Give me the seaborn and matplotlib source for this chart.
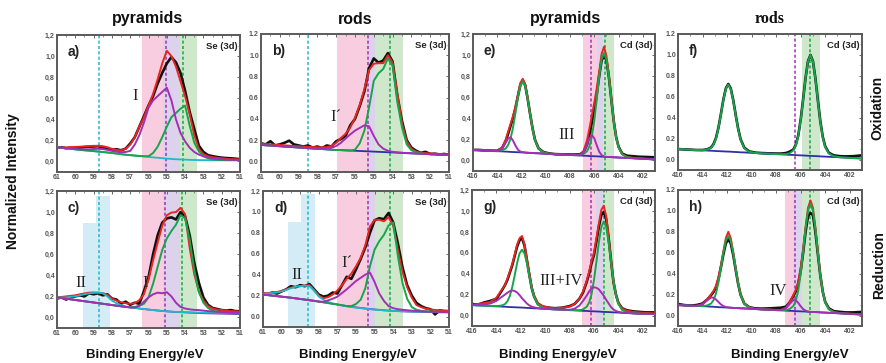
import matplotlib
matplotlib.use("Agg")
import matplotlib.pyplot as plt
import seaborn as sns
from matplotlib.ticker import FuncFormatter, MultipleLocator

sns.set_theme(style="white")
plt.rcParams['font.family'] = ['Liberation Sans', 'DejaVu Sans']

# ---------------- data ----------------
se_x = [61, 60.75, 60.5, 60.25, 60, 59.75, 59.5, 59.25, 59, 58.75,
        58.5, 58.25, 58, 57.75, 57.5, 57.25, 57, 56.75, 56.5, 56.25,
        56, 55.75, 55.5, 55.25, 55, 54.75, 54.5, 54.25, 54, 53.75,
        53.5, 53.25, 53, 52.75, 52.5, 52.25, 52, 51.75, 51.5, 51.25,
        51]

a_bg = [.135, .130, .125, .120, .115, .110, .106, .102, .098, .094,
        .090, .085, .080, .075, .069, .064, .060, .056, .052, .047,
        .043, .039, .035, .031, .027, .024, .021, .019, .017, .015,
        .014, .013, .013, .012, .012, .012, .012, .012, .012, .012,
        .012]
a_purple = [.135, .130, .126, .122, .118, .115, .114, .115, .118, .120,
            .118, .110, .100, .092, .088, .090, .100, .160, .250, .370,
            .510, .580, .620, .660, .700, .580, .400, .270, .190, .130,
            .090, .065, .050, .040, .030, .025, .020, .018, .016, .015,
            .015]
a_green = [.135, .130, .125, .120, .115, .110, .106, .102, .098, .094,
           .090, .085, .080, .075, .069, .064, .060, .056, .052, .050,
           .050, .080, .140, .230, .330, .420, .460, .500, .530, .340,
           .180, .095, .050, .030, .020, .015, .013, .012, .012, .012,
           .012]
a_red = [.130, .132, .134, .136, .138, .140, .143, .146, .148, .148,
         .145, .135, .120, .110, .105, .120, .160, .230, .330, .420,
         .530, .640, .780, .930, 1.050, 1.000, .900, .760, .620, .450,
         .250, .120, .070, .050, .040, .035, .030, .025, .022, .020,
         .020]
a_black = [.130, .135, .125, .130, .128, .132, .136, .140, .142, .145,
           .132, .120, .112, .116, .106, .122, .170, .230, .330, .430,
           .530, .620, .740, .840, .930, .990, .940, .840, .670, .470,
           .310, .150, .090, .060, .050, .042, .036, .032, .030, .026,
           .022]

b_bg = [.155, .152, .149, .146, .143, .140, .137, .134, .131, .128,
        .125, .122, .119, .116, .113, .110, .108, .106, .104, .102,
        .100, .098, .096, .094, .092, .090, .088, .086, .084, .082,
        .080, .078, .076, .074, .072, .070, .068, .066, .064, .062,
        .060]
b_purple = [.155, .152, .149, .146, .143, .140, .137, .134, .131, .128,
            .125, .122, .119, .118, .120, .128, .145, .175, .215, .255,
            .290, .315, .340, .330, .240, .160, .120, .100, .090, .085,
            .082, .078, .076, .074, .072, .070, .068, .066, .064, .062,
            .060]
b_green = [.155, .152, .149, .146, .143, .140, .137, .134, .131, .128,
           .125, .122, .119, .116, .113, .110, .108, .106, .104, .102,
           .110, .170, .290, .510, .760, .830, .870, .970, .900, .560,
           .320, .160, .105, .085, .075, .070, .068, .066, .064, .062,
           .060]
b_red = [.165, .162, .160, .157, .154, .151, .148, .145, .142, .140,
         .137, .135, .133, .132, .135, .145, .175, .220, .260, .320,
         .410, .530, .680, .860, .920, .925, .925, 1.000, .930, .640,
         .360, .190, .120, .092, .082, .078, .075, .072, .070, .068,
         .066]
b_black = [.170, .160, .190, .150, .160, .175, .195, .160, .150, .140,
           .150, .130, .140, .125, .150, .140, .190, .210, .240, .340,
           .400, .520, .660, .880, .970, .930, .950, 1.020, .940, .620,
           .380, .200, .130, .100, .080, .090, .070, .072, .065, .070,
           .060]

c_bg = [.190, .184, .178, .172, .166, .160, .154, .148, .142, .136,
        .130, .124, .118, .112, .106, .100, .095, .090, .085, .080,
        .075, .070, .066, .062, .058, .055, .052, .050, .048, .046,
        .044, .042, .040, .039, .038, .037, .036, .035, .034, .033,
        .032]
c_cyan = [.190, .190, .190, .195, .200, .210, .220, .228, .233, .236,
          .230, .200, .160, .135, .118, .105, .097, .090, .085, .080,
          .075, .070, .066, .062, .058, .055, .053, .051, .050, .049,
          .048, .047, .046, .045, .045, .044, .044, .044, .044, .044,
          .044]
c_purple = [.190, .184, .178, .172, .166, .160, .154, .148, .142, .136,
            .130, .124, .118, .112, .106, .100, .095, .095, .110, .150,
            .190, .220, .235, .230, .240, .200, .140, .100, .085, .077,
            .072, .070, .065, .060, .057, .055, .052, .050, .048, .046,
            .045]
c_green = [.190, .184, .178, .172, .166, .160, .154, .148, .142, .136,
           .130, .124, .118, .112, .106, .100, .097, .100, .110, .130,
           .190, .320, .480, .640, .750, .820, .880, .970, .940, .740,
           .450, .240, .140, .090, .065, .055, .050, .046, .043, .040,
           .038]
c_red = [.190, .195, .200, .205, .210, .220, .228, .235, .237, .235,
         .232, .215, .180, .160, .145, .135, .130, .135, .165, .220,
         .360, .540, .710, .870, .970, .995, 1.000, 1.040, .980, .660,
         .410, .250, .160, .110, .085, .075, .070, .065, .060, .058,
         .056]
c_black = [.180, .190, .170, .190, .200, .210, .200, .230, .220, .230,
           .210, .220, .180, .170, .130, .150, .120, .140, .130, .250,
           .380, .600, .780, .900, .940, .950, .930, 1.000, .960, .780,
           .520, .330, .190, .120, .090, .080, .070, .065, .070, .060,
           .060]

d_bg = [.210, .205, .200, .195, .190, .185, .180, .174, .168, .162,
        .156, .150, .143, .136, .129, .122, .115, .108, .100, .094,
        .088, .082, .077, .072, .068, .064, .060, .057, .054, .052,
        .050, .048, .046, .045, .044, .043, .042, .041, .040, .040,
        .040]
d_cyan = [.215, .220, .225, .230, .240, .255, .270, .285, .290, .295,
          .290, .245, .190, .160, .140, .125, .115, .105, .097, .090,
          .085, .080, .075, .070, .066, .062, .059, .056, .054, .052,
          .050, .049, .048, .047, .046, .045, .045, .045, .045, .045,
          .045]
d_purple = [.210, .205, .200, .195, .190, .185, .180, .174, .168, .162,
            .156, .150, .143, .140, .155, .170, .190, .225, .260, .300,
            .340, .370, .400, .420, .330, .220, .150, .100, .080, .070,
            .065, .060, .056, .053, .050, .048, .046, .045, .044, .043,
            .042]
d_green = [.210, .205, .200, .195, .190, .185, .180, .174, .168, .162,
           .156, .150, .143, .136, .129, .122, .115, .108, .100, .100,
           .120, .160, .270, .480, .640, .720, .780, .870, .900, .580,
           .320, .170, .090, .065, .055, .050, .048, .046, .045, .044,
           .044]
d_red = [.220, .225, .230, .235, .245, .260, .275, .285, .290, .295,
         .300, .255, .200, .175, .185, .210, .250, .300, .360, .410,
         .480, .560, .680, .860, .925, .925, .910, .950, .870, .640,
         .430, .280, .180, .110, .090, .075, .068, .063, .060, .058,
         .056]
d_black = [.220, .210, .230, .220, .240, .260, .290, .280, .300, .290,
           .310, .260, .210, .190, .200, .230, .220, .300, .380, .360,
           .450, .550, .660, .800, .920, .940, .930, .990, .900, .700,
           .470, .300, .200, .130, .100, .080, .070, .020, .060, .050,
           .050]

cd_x = [416, 415.5, 415, 414.5, 414, 413.6, 413.3, 413.1, 412.9, 412.7,
        412.5, 412.3, 412.1, 411.9, 411.7, 411.5, 411.3, 411.1, 410.9, 410.6,
        410.2, 409.7, 409.2, 408.6, 408, 407.6, 407.2, 406.9, 406.6, 406.4,
        406.2, 406.0, 405.8, 405.6, 405.4, 405.2, 405.0, 404.8, 404.6, 404.4,
        404.2, 404.0, 403.7, 403.3, 402.8, 402.3, 401.7, 401]

e_bg = [.100, .097, .094, .091, .088, .086, .084, .083, .081, .080,
        .079, .078, .077, .076, .075, .073, .072, .071, .069, .068,
        .065, .062, .059, .056, .052, .050, .047, .045, .044, .042,
        .041, .040, .039, .038, .036, .035, .034, .033, .032, .030,
        .029, .028, .026, .024, .021, .018, .014, .010]
e_green = [.100, .097, .094, .091, .090, .097, .114, .147, .209, .314,
           .451, .596, .708, .750, .706, .591, .444, .305, .197, .112,
           .076, .063, .059, .056, .052, .051, .052, .061, .088, .136,
           .228, .382, .583, .794, .958, 1.020, .956, .789, .576, .372,
           .216, .122, .058, .032, .022, .018, .014, .010]
e_purple = [.100, .097, .094, .091, .090, .111, .169, .210, .220, .188,
            .141, .103, .084, .078, .075, .073, .072, .071, .069, .068,
            .065, .062, .059, .056, .052, .050, .050, .072, .148, .212,
            .241, .210, .143, .084, .051, .038, .034, .033, .032, .030,
            .029, .028, .026, .024, .021, .018, .014, .010]
e_red = [.100, .098, .096, .094, .092, .122, .199, .274, .348, .422,
         .513, .621, .735, .775, .725, .595, .448, .307, .198, .113,
         .077, .063, .059, .056, .053, .053, .055, .088, .192, .306,
         .428, .552, .687, .840, 1.010, 1.080, .990, .810, .590, .380,
         .220, .125, .060, .034, .025, .021, .017, .013]
e_black = [.100, .100, .095, .093, .092, .118, .185, .255, .330, .405,
           .495, .610, .715, .760, .715, .590, .445, .310, .200, .115,
           .080, .066, .060, .058, .056, .056, .058, .078, .150, .250,
           .360, .480, .630, .800, .950, .990, .950, .790, .580, .375,
           .220, .130, .065, .045, .040, .035, .033, .030]

f_bg = [.100, .097, .094, .091, .088, .086, .084, .083, .081, .080,
        .079, .078, .077, .076, .075, .073, .072, .071, .069, .068,
        .065, .062, .059, .056, .052, .050, .047, .045, .044, .042,
        .041, .040, .039, .038, .036, .035, .034, .033, .032, .030,
        .029, .028, .026, .024, .021, .018, .014, .010]
f_green = [.100, .097, .094, .091, .090, .096, .113, .144, .203, .302,
           .432, .570, .676, .716, .674, .565, .425, .293, .191, .110,
           .075, .063, .059, .056, .052, .051, .052, .060, .087, .134,
           .224, .375, .572, .779, .939, 1.000, .937, .774, .565, .365,
           .212, .120, .057, .032, .022, .018, .014, .010]
f_black = [.100, .097, .094, .091, .091, .098, .116, .148, .208, .306,
           .436, .574, .680, .722, .680, .570, .430, .298, .195, .114,
           .078, .066, .062, .059, .057, .057, .062, .075, .095, .140,
           .228, .380, .576, .782, .942, 1.000, .940, .778, .570, .370,
           .218, .126, .064, .040, .032, .030, .032, .040]

g_bg = [.100, .097, .094, .091, .088, .086, .084, .083, .081, .080,
        .079, .078, .077, .076, .075, .073, .072, .071, .069, .068,
        .065, .062, .059, .056, .052, .050, .047, .045, .044, .042,
        .041, .040, .039, .038, .036, .035, .034, .033, .032, .030,
        .029, .028, .026, .024, .021, .018, .016, .015]
g_green = [.100, .097, .094, .091, .090, .095, .109, .136, .186, .272,
           .384, .503, .595, .629, .593, .498, .377, .263, .174, .104,
           .074, .063, .059, .056, .052, .051, .051, .059, .083, .124,
           .205, .340, .516, .702, .846, .900, .844, .697, .509, .330,
           .193, .110, .054, .031, .022, .018, .016, .015]
g_purple = [.100, .100, .105, .115, .140, .175, .200, .218, .233, .240,
            .235, .220, .195, .165, .140, .115, .097, .085, .078, .071,
            .066, .062, .059, .057, .055, .065, .095, .140, .190, .230,
            .260, .270, .265, .250, .220, .190, .150, .115, .080, .058,
            .043, .035, .029, .025, .021, .018, .016, .015]
g_red = [.105, .110, .120, .130, .170, .240, .290, .350, .420, .490,
         .580, .680, .740, .760, .680, .540, .400, .270, .190, .120,
         .090, .075, .070, .075, .085, .110, .160, .230, .330, .420,
         .520, .600, .740, .880, 1.010, 1.050, .950, .750, .520, .320,
         .200, .120, .070, .045, .035, .030, .025, .020]
g_black = [.110, .105, .125, .140, .160, .230, .290, .340, .410, .480,
           .570, .660, .720, .740, .670, .530, .390, .260, .180, .110,
           .085, .075, .070, .075, .090, .110, .160, .220, .320, .400,
           .500, .580, .710, .850, .960, .990, .920, .740, .520, .320,
           .200, .120, .070, .050, .040, .035, .030, .030]

h_bg = [.105, .101, .097, .094, .090, .087, .085, .084, .082, .080,
        .079, .078, .077, .076, .075, .073, .072, .071, .069, .068,
        .065, .062, .059, .056, .052, .050, .047, .045, .044, .042,
        .041, .040, .039, .038, .036, .035, .034, .033, .032, .030,
        .029, .028, .026, .024, .021, .018, .014, .010]
h_green = [.100, .097, .094, .091, .090, .097, .115, .148, .211, .317,
           .456, .603, .716, .759, .714, .598, .449, .308, .199, .113,
           .076, .063, .059, .056, .052, .051, .052, .062, .091, .140,
           .238, .399, .610, .833, 1.005, 1.070, 1.003, .828, .603, .389,
           .226, .126, .059, .032, .022, .018, .014, .010]
h_purple = [.100, .097, .094, .092, .107, .147, .172, .171, .153, .129,
            .106, .090, .082, .077, .075, .073, .072, .071, .069, .068,
            .065, .062, .059, .056, .052, .052, .070, .110, .148, .146,
            .122, .089, .062, .047, .038, .035, .034, .033, .032, .030,
            .029, .028, .026, .024, .021, .018, .014, .010]
h_red = [.100, .097, .094, .093, .110, .158, .203, .236, .283, .366,
         .483, .615, .741, .800, .740, .610, .455, .312, .202, .115,
         .078, .064, .060, .057, .054, .054, .075, .127, .195, .244,
         .320, .450, .635, .845, 1.030, 1.100, 1.030, .845, .615, .395,
         .230, .130, .062, .034, .024, .020, .016, .012]
h_black = [.110, .100, .095, .100, .115, .155, .195, .225, .270, .350,
           .460, .585, .690, .730, .690, .580, .440, .305, .200, .115,
           .080, .068, .066, .068, .072, .075, .085, .125, .185, .230,
           .305, .425, .600, .800, .950, .980, .960, .800, .590, .385,
           .228, .130, .068, .042, .035, .030, .030, .035]

col_titles = ["pyramids", "rods", "pyramids", "rods"]
row_titles = ["Oxidation", "Reduction"]
y_title = "Normalized Intensity"
x_title = "Binding Energy/eV"
se_ticks = [61, 60, 59, 58, 57, 56, 55, 54, 53, 52, 51]
cd_ticks = [416, 414, 412, 410, 408, 406, 404, 402]
y_ticks = [0.0, 0.2, 0.4, 0.6, 0.8, 1.0, 1.2]

# ---------------- style ----------------
BLACK = "#111111"
RED = "#e8261f"
GREEN = "#17a54a"
PURPLE = "#a22fb4"
CYAN = "#22b8cc"
NAVY = "#2d2fa6"
VIOLET = "#6a3cc0"
PINK_B = "#f8cde0"
LAV_B = "#ddd2ec"
GRN_B = "#cfe8cc"
CYA_B = "#d4ecf6"

W, H = 887, 363
fig = plt.figure(figsize=(W / 100, H / 100), dpi=100)


def add_ax(l, t, r, b):
    return fig.add_axes([l / W, 1 - b / H, (r - l) / W, (b - t) / H])


def line(ax, x, y, color, lw, z):
    sns.lineplot(x=x, y=y, ax=ax, color=color, lw=lw, sort=False,
                 estimator=None, legend=False, zorder=z)


panels = [
    dict(box=(57, 35, 240, 172), x=se_x, se=True, comma=True, tag="a)",
         black=a_black, red=a_red, green=a_green, purple=a_purple,
         bg=a_bg, bgc=CYAN, cyan=None,
         bands=[(56.35, 55.2, PINK_B, 1), (55.2, 54.3, LAV_B, 1), (54.3, 53.35, GRN_B, 1)],
         vl=[(58.7, CYAN), (55.05, PURPLE), (54.1, GREEN)],
         roman=[("I", 56.75, 0.62)]),
    dict(box=(261, 34, 449, 172), x=se_x, se=True, comma=False, tag="b)",
         black=b_black, red=b_red, green=b_green, purple=b_purple,
         bg=b_bg, bgc=NAVY, cyan=None,
         bands=[(56.96, 55.36, PINK_B, 1), (55.36, 54.93, LAV_B, 1), (54.93, 53.45, GRN_B, 1)],
         vl=[(58.5, CYAN), (55.3, PURPLE), (54.15, GREEN)],
         roman=[("I\u00b4", 57.0, 0.42)]),
    dict(box=(473, 34, 655, 171), x=cd_x, se=False, comma=True, tag="e)",
         black=e_black, red=e_red, green=e_green, purple=e_purple,
         bg=e_bg, bgc=NAVY, cyan=None,
         bands=[(406.96, 405.8, PINK_B, 1), (405.8, 405.3, LAV_B, 1), (405.3, 404.4, GRN_B, 1)],
         vl=[(406.25, PURPLE), (405.15, GREEN)],
         roman=[("III", 408.3, 0.24)]),
    dict(box=(678, 34, 862, 170), x=cd_x, se=False, comma=False, tag="f)",
         black=f_black, red=None, green=f_green, purple=None,
         bg=f_bg, bgc=NAVY, cyan=None,
         bands=[(405.9, 404.4, GRN_B, 1)],
         vl=[(406.5, PURPLE), (405.2, GREEN)],
         roman=[]),
    dict(box=(57, 191, 240, 328), x=se_x, se=True, comma=True, tag="c)",
         black=c_black, red=c_red, green=c_green, purple=c_purple,
         bg=c_bg, bgc=VIOLET, cyan=c_cyan,
         bands=[(59.6, 58.85, CYA_B, 0.77), (58.85, 58.1, CYA_B, 0.96),
                (56.35, 55.2, PINK_B, 1), (55.2, 54.3, LAV_B, 1), (54.3, 53.35, GRN_B, 1)],
         vl=[(58.7, CYAN), (55.1, PURPLE), (54.15, GREEN)],
         roman=[("II", 59.7, 0.33), ("I", 56.2, 0.33)]),
    dict(box=(263, 191, 449, 327), x=se_x, se=True, comma=False, tag="d)",
         black=d_black, red=d_red, green=d_green, purple=d_purple,
         bg=d_bg, bgc=VIOLET, cyan=d_cyan,
         bands=[(59.66, 58.95, CYA_B, 0.77), (58.95, 58.2, CYA_B, 0.98),
                (57.0, 55.4, PINK_B, 1), (55.4, 55.0, LAV_B, 1), (55.0, 53.5, GRN_B, 1)],
         vl=[(58.6, CYAN), (55.33, PURPLE), (54.15, GREEN)],
         roman=[("II", 59.2, 0.40), ("I\u00b4", 56.5, 0.51)]),
    dict(box=(472, 190, 655, 326), x=cd_x, se=False, comma=True, tag="g)",
         black=g_black, red=g_red, green=g_green, purple=g_purple,
         bg=g_bg, bgc=NAVY, cyan=None,
         bands=[(406.96, 405.8, PINK_B, 1), (405.8, 405.3, LAV_B, 1), (405.3, 404.4, GRN_B, 1)],
         vl=[(406.25, PURPLE), (405.15, GREEN)],
         roman=[("III+IV", 408.7, 0.33)]),
    dict(box=(678, 190, 862, 326), x=cd_x, se=False, comma=False, tag="h)",
         black=h_black, red=h_red, green=h_green, purple=h_purple,
         bg=h_bg, bgc=NAVY, cyan=None,
         bands=[(407.3, 406.6, PINK_B, 1), (406.6, 405.9, LAV_B, 1), (405.9, 404.4, GRN_B, 1)],
         vl=[(406.5, PURPLE), (405.2, GREEN)],
         roman=[("IV", 407.8, 0.23)]),
]

for p in panels:
    ax = add_ax(*p["box"])
    x = p["x"]
    if p["se"]:
        ax.set_xlim(61, 51)
        ax.set_xticks(se_ticks)
        ax.xaxis.set_minor_locator(MultipleLocator(0.5))
    else:
        ax.set_xlim(416, 401)
        ax.set_xticks(cd_ticks)
        ax.xaxis.set_minor_locator(MultipleLocator(1))
    ax.set_ylim(-0.1, 1.2)
    ax.set_yticks(y_ticks)
    ax.yaxis.set_minor_locator(MultipleLocator(0.1))
    if p["comma"]:
        ax.yaxis.set_major_formatter(FuncFormatter(lambda v, pos: f"{v:.1f}".replace(".", ",")))
    else:
        ax.yaxis.set_major_formatter(FuncFormatter(lambda v, pos: f"{v:.1f}"))
    ax.xaxis.set_major_formatter(FuncFormatter(lambda v, pos: f"{v:.0f}"))

    for x0, x1, c, top in p["bands"]:
        ax.axvspan(x1, x0, ymin=0, ymax=top, color=c, lw=0, zorder=0)
    for xv, c in p["vl"]:
        ax.axvline(xv, color=c, lw=1.1, ls=(0, (2, 1.5)), zorder=1)

    line(ax, x, p["black"], BLACK, 1.9, 2)
    if p["red"] is not None:
        line(ax, x, p["red"], RED, 1.4, 3)
    line(ax, x, p["bg"], p["bgc"], 1.3, 4)
    if p["cyan"] is not None:
        line(ax, x, p["cyan"], CYAN, 1.3, 4.5)
    line(ax, x, p["green"], GREEN, 1.4, 5)
    if p["purple"] is not None:
        line(ax, x, p["purple"], PURPLE, 1.4, 6)

    ax.set_xlabel("")
    ax.set_ylabel("")
    ax.tick_params(axis="both", which="major", direction="in", length=2.5, width=0.7,
                   labelsize=5, labelcolor="#555555", color="#666666",
                   top=True, right=True, pad=1.5)
    ax.tick_params(axis="both", which="minor", direction="in", length=1.3, width=0.5,
                   color="#666666", top=True, right=True)
    for lab in ax.get_xticklabels() + ax.get_yticklabels():
        lab.set_fontweight("bold")
    for s in ax.spines.values():
        s.set_color("#5a5a5a")
        s.set_linewidth(1.4)

    ax.text(0.06, 0.875, p["tag"], transform=ax.transAxes, fontsize=10,
            fontweight="bold", ha="left", va="center", color="#222222", zorder=10)
    ax.text(0.985, 0.915, "Se (3d)" if p["se"] else "Cd (3d)", transform=ax.transAxes,
            fontsize=6.8, fontweight="bold", ha="right", va="center", color="#222222", zorder=10)
    for txt, tx, ty in p["roman"]:
        ax.text(tx, ty, txt, fontsize=12, family="Liberation Serif", ha="center",
                va="center", color="#222222", zorder=10)

# column titles
col_cx = [148, 355, 566, 770]
for i, t in enumerate(col_titles):
    fam = "Liberation Serif" if i == 3 else "Liberation Sans"
    fig.text(col_cx[i] / W, 1 - 19 / H, t, fontsize=11.5, fontweight="bold",
             family=fam, ha="center", va="center", color="#111111")

# x titles
xt_cx = [145, 358, 558, 790]
for cx in xt_cx:
    fig.text(cx / W, 1 - 355 / H, x_title, fontsize=9.5, fontweight="bold",
             ha="center", va="center", color="#111111")

fig.text(13 / W, 1 - 181 / H, y_title, rotation=90, fontsize=10, fontweight="bold",
         ha="center", va="center", color="#111111")
fig.text(877 / W, 1 - 108 / H, row_titles[0], rotation=90, fontsize=10,
         fontweight="bold", ha="center", va="center", color="#111111")
fig.text(879 / W, 1 - 265 / H, row_titles[1], rotation=90, fontsize=10,
         fontweight="bold", ha="center", va="center", color="#111111")

fig.savefig("out.png", dpi=100)
